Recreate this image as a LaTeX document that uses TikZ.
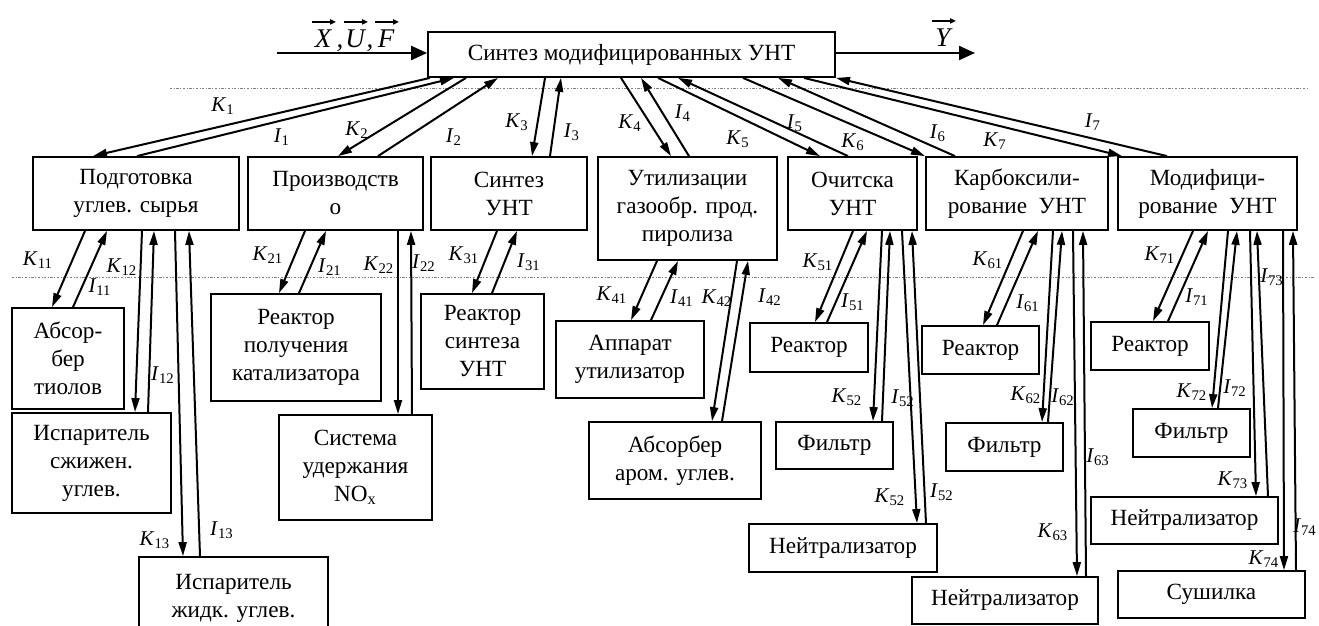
\documentclass[tikz,border=0pt]{standalone}
\usepackage{fontspec}
\setmainfont{Liberation Serif}
\usetikzlibrary{arrows.meta}
\newcommand\Kdn[4]{\path (#2,0) coordinate (ta) (#4,0) coordinate (tb);\draw[arr] (#1.south -| ta) -- (#3.north -| tb);}
\newcommand\Iup[4]{\path (#2,0) coordinate (ta) (#4,0) coordinate (tb);\draw[arr] (#3.north -| tb) -- (#1.south -| ta);}
\newcommand\Ks[1]{\textit{K}\textsubscript{#1}}
\newcommand\Is[1]{\textit{I}\textsubscript{#1}}
\newcommand\lbl[4]{\node[lab] (#1) at (#2,#3) {#4};}
\newcommand\bx[6]{\node[box,minimum width={(#4-#2)*0.5pt},minimum height={(#5-#3)*0.5pt}] (#1) at ({(#2+#4)/2},{(#3+#5)/2}) {#6};}
\newcommand\varrow[1]{\draw[varr] ([xshift=-5.5pt,yshift=4pt]#1.north) -- ([xshift=6.5pt,yshift=4pt]#1.north);}
\begin{document}
\begin{tikzpicture}[x=0.5pt,y=-0.5pt,
  box/.style={draw,line width=0.9pt,inner sep=0pt,align=center,font=\fontsize{11.6}{14}\selectfont},
  arr/.style={line width=1pt,-{Triangle[length=7pt,width=4pt]}},
  bigarr/.style={line width=1.1pt,-{Triangle[length=8pt,width=7pt]}},
  varr/.style={line width=0.7pt,-{Triangle[length=3pt,width=2.6pt]}},
  lab/.style={font=\fontsize{10.5}{11}\selectfont,inner sep=0pt},
  vlab/.style={font=\fontsize{13.5}{15}\selectfont\itshape,inner sep=0pt,anchor=base},
  dotln/.style={gray,line width=0.4pt,dash pattern=on 1.2pt off 0.8pt on 0.4pt off 0.8pt}]
\useasboundingbox (0,0) rectangle (1319,626);
\clip (0,0) rectangle (1319,626);
% dotted guide lines
\draw[dotln] (170,88) -- (1307,88);
\draw[dotln] (12,277) -- (1315,277);
% main box
\bx{main}{428}{32}{835}{77}{Синтез модифицированных УНТ}
\coordinate (src) at (277,53);
\coordinate (dst) at (975,53);
\draw[bigarr] (src) -- (main.west |- src);
\draw[bigarr] (main.east |- dst) -- (dst);
\node[vlab] (vX) at (323,48) {X};
\node[vlab] (c1) at (340,48) {,};
\node[vlab] (vU) at (355,48) {U};
\node[vlab] (c2) at (370,48) {,};
\node[vlab] (vF) at (386,48) {F};
\node[vlab] (vY) at (943,47) {Y};
\varrow{vX}\varrow{vU}\varrow{vF}\varrow{vY}
% level 1
\bx{p1}{33}{157}{239}{230}{Подготовка\\углев. сырья}
\bx{p2}{248}{157}{423}{230}{Производств\\о}
\bx{p3}{431}{157}{587}{230}{Синтез\\УНТ}
\bx{p4}{598}{157}{777}{260}{Утилизации\\газообр. прод.\\пиролиза}
\bx{p5}{788}{157}{917}{230}{Очитска\\УНТ}
\bx{p6}{926}{157}{1108}{230}{Карбоксили-\\рование\ \ УНТ}
\bx{p7}{1118}{157}{1297}{230}{Модифици-\\рование\ \ УНТ}
% level 2
\bx{a11}{12}{308}{124}{409}{Абсор-\\бер\\тиолов}
\bx{a12}{12}{413}{171}{513}{Испаритель\\сжижен.\\углев.}
\bx{a13}{139}{557}{328}{640}{Испаритель\\жидк. углев.}
\bx{b21}{211}{294}{381}{401}{Реактор\\получения\\катализатора}
\bx{b22}{279}{415}{432}{520}{Система\\удержания\\NO\textsubscript{x}}
\bx{b31}{421}{294}{544}{389}{Реактор\\синтеза\\УНТ}
\bx{b41}{556}{321}{704}{398}{Аппарат\\утилизатор}
\bx{b42}{589}{422}{761}{499}{Абсорбер\\аром. углев.}
\bx{b51}{750}{323}{868}{372}{Реактор}
\bx{b52}{776}{422}{893}{469}{Фильтр}
\bx{b53}{749}{524}{937}{572}{Нейтрализатор}
\bx{b61}{922}{326}{1039}{374}{Реактор}
\bx{b62}{946}{423}{1063}{471}{Фильтр}
\bx{b63}{912}{577}{1098}{624}{Нейтрализатор}
\bx{b71}{1091}{322}{1209}{370}{Реактор}
\bx{b72}{1133}{409}{1250}{457}{Фильтр}
\bx{b73}{1091}{497}{1278}{544}{Нейтрализатор}
\bx{b74}{1118}{571}{1305}{618}{Сушилка}
% top connectors
\Kdn{main}{430}{p1}{93}   \Iup{main}{454}{p1}{137}
\Kdn{main}{466}{p2}{338}  \Iup{main}{498}{p2}{378}
\Kdn{main}{545}{p3}{532}  \Iup{main}{561}{p3}{550}
\Kdn{main}{621}{p4}{671}  \Iup{main}{641}{p4}{689}
\Kdn{main}{658}{p5}{820}  \Iup{main}{678}{p5}{848}
\Kdn{main}{743}{p6}{925}  \Iup{main}{778}{p6}{955}
\Kdn{main}{804}{p7}{1122} \Iup{main}{836}{p7}{1167}
% second level connectors
\Kdn{p1}{85}{a11}{52}    \Iup{p1}{107}{a11}{73}
\Kdn{p1}{142}{a12}{135}  \Iup{p1}{154}{a12}{148}
\Kdn{p1}{175}{a13}{183}  \Iup{p1}{189}{a13}{200}
\Kdn{p2}{305}{b21}{279}  \Iup{p2}{326}{b21}{299}
\Kdn{p2}{398}{b22}{398}  \Iup{p2}{411}{b22}{412}
\Kdn{p3}{497}{b31}{472}  \Iup{p3}{517}{b31}{492}
\Kdn{p4}{657}{b41}{631}  \Iup{p4}{678}{b41}{651}
\Kdn{p4}{737}{b42}{712}  \Iup{p4}{748}{b42}{722}
\Kdn{p5}{853}{b51}{815}  \Iup{p5}{867}{b51}{827}
\Kdn{p5}{882}{b52}{873}  \Iup{p5}{890}{b52}{882}
\Kdn{p5}{902}{b53}{917}  \Iup{p5}{912}{b53}{926}
\Kdn{p6}{1023}{b61}{983} \Iup{p6}{1038}{b61}{997}
\Kdn{p6}{1053}{b62}{1042} \Iup{p6}{1062}{b62}{1048}
\Kdn{p6}{1073}{b63}{1077} \Iup{p6}{1083}{b63}{1086}
\Kdn{p7}{1193}{b71}{1153} \Iup{p7}{1208}{b71}{1168}
\Kdn{p7}{1228}{b72}{1212} \Iup{p7}{1237}{b72}{1218}
\Kdn{p7}{1250}{b73}{1256} \Iup{p7}{1257}{b73}{1268}
\Kdn{p7}{1283}{b74}{1284} \Iup{p7}{1293}{b74}{1296}
% labels
\lbl{lK1}{223}{106}{\Ks{1}} \lbl{lI1}{282}{137}{\Is{1}}
\lbl{lK2}{357}{130}{\Ks{2}} \lbl{lI2}{454}{137}{\Is{2}}
\lbl{lK3}{517}{122}{\Ks{3}} \lbl{lI3}{572}{132}{\Is{3}}
\lbl{lK4}{630}{123}{\Ks{4}} \lbl{lI4}{683}{113}{\Is{4}}
\lbl{lK5}{738}{139}{\Ks{5}} \lbl{lI5}{795}{123}{\Is{5}}
\lbl{lK6}{853}{142}{\Ks{6}} \lbl{lI6}{938}{133}{\Is{6}}
\lbl{lK7}{995}{141}{\Ks{7}} \lbl{lI7}{1093}{122}{\Is{7}}
\lbl{lK11}{38}{260}{\Ks{11}} \lbl{lI11}{100}{287}{\Is{11}}
\lbl{lK12}{122}{267}{\Ks{12}} \lbl{lI12}{163}{375}{\Is{12}}
\lbl{lK13}{155}{540}{\Ks{13}} \lbl{lI13}{222}{530}{\Is{13}}
\lbl{lK21}{268}{255}{\Ks{21}} \lbl{lI21}{330}{267}{\Is{21}}
\lbl{lK22}{379}{265}{\Ks{22}} \lbl{lI22}{424}{263}{\Is{22}}
\lbl{lK31}{464}{255}{\Ks{31}} \lbl{lI31}{529}{262}{\Is{31}}
\lbl{lK41}{612}{295}{\Ks{41}} \lbl{lI41}{682}{298}{\Is{41}}
\lbl{lK42}{717}{298}{\Ks{42}} \lbl{lI42}{770}{297}{\Is{42}}
\lbl{lK51}{818}{262}{\Ks{51}} \lbl{lI51}{853}{302}{\Is{51}}
\lbl{lK52a}{847}{397}{\Ks{52}} \lbl{lI52a}{903}{398}{\Is{52}}
\lbl{lK52b}{890}{497}{\Ks{52}} \lbl{lI52b}{942}{492}{\Is{52}}
\lbl{lK61}{988}{260}{\Ks{61}} \lbl{lI61}{1028}{303}{\Is{61}}
\lbl{lK62}{1026}{395}{\Ks{62}} \lbl{lI62}{1063}{397}{\Is{62}}
\lbl{lK63}{1053}{532}{\Ks{63}} \lbl{lI63}{1098}{457}{\Is{63}}
\lbl{lK71}{1160}{255}{\Ks{71}} \lbl{lI71}{1197}{297}{\Is{71}}
\lbl{lK72}{1192}{392}{\Ks{72}} \lbl{lI72}{1235}{388}{\Is{72}}
\lbl{lK73}{1233}{480}{\Ks{73}} \lbl{lI73}{1272}{277}{\Is{73}}
\lbl{lK74}{1264}{559}{\Ks{74}} \lbl{lI74}{1305}{527}{\Is{74}}
\end{tikzpicture}
\end{document}
